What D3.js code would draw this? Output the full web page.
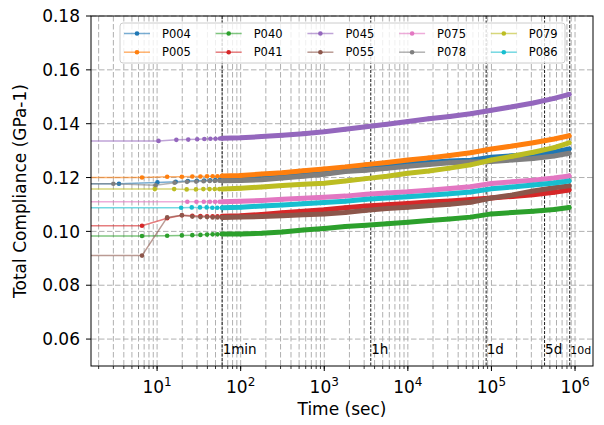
<!DOCTYPE html>
<html><head><meta charset="utf-8">
<script src="https://cdn.jsdelivr.net/npm/d3@7"></script>
<style>body{margin:0;background:#fff} svg{display:block} text{font-family:"DejaVu Sans",sans-serif}</style>
</head><body><svg id="c" width="604" height="425"></svg>
<script>
const names = ["P004","P005","P040","P041","P045","P055","P075","P078","P079","P086"];
const colors = ["#1f77b4","#ff7f0e","#2ca02c","#d62728","#9467bd","#8c564b","#e377c2","#7f7f7f","#bcbd22","#17becf"];
const earlyTimes = [
  [1, 3.5, 10.1, 16.7, 23.3, 29.9, 36.5, 43.1, 49.7, 56.3],
  [1, 6.6, 13.2, 19.8, 26.4, 33, 39.6, 46.2, 52.8],
  [1, 6.6, 13.2, 19.8, 26.4, 33, 39.6, 46.2, 52.8],
  [1, 6.6, 13.2, 19.8, 26.4, 33, 39.6, 46.2, 52.8],
  [1, 10.4, 17, 23.6, 30.2, 36.8, 43.4, 50, 56.6],
  [1, 6.6, 13.2, 19.8, 26.4, 33, 39.6, 46.2, 52.8],
  [1, 23, 29.6, 36.2, 42.8, 49.4, 56],
  [1, 3.0, 9.6, 16.2, 22.8, 29.4, 36, 42.6, 49.2, 55.8],
  [1, 9.4, 16, 22.6, 29.2, 35.8, 42.4, 49, 55.6],
  [1, 19.4, 26, 32.6, 39.2, 45.8, 52.4]
];
const earlyValues = [
  [0.1177,0.1177,0.1182,0.1184,0.1187,0.1188,0.1189,0.1190,0.1191,0.1192],
  [0.1200,0.1200,0.1203,0.1203,0.1204,0.1204,0.1205,0.1205,0.1205],
  [0.0983,0.0983,0.0984,0.0985,0.0986,0.0987,0.0988,0.0989,0.0989],
  [0.1021,0.1021,0.1049,0.1060,0.1058,0.1057,0.1056,0.1056,0.1056],
  [0.1336,0.1336,0.1340,0.1341,0.1342,0.1343,0.1344,0.1344,0.1345],
  [0.0910,0.0910,0.1052,0.1060,0.1055,0.1053,0.1053,0.1052,0.1052],
  [0.1110,0.1110,0.1110,0.1110,0.1110,0.1110,0.1110],
  [0.1177,0.1177,0.1171,0.1181,0.1184,0.1185,0.1186,0.1187,0.1187,0.1188],
  [0.1157,0.1157,0.1157,0.1156,0.1156,0.1157,0.1157,0.1157,0.1157],
  [0.1088,0.1088,0.1089,0.1089,0.1089,0.1088,0.1088]
];
const denseTimes = [60,100,178,316,562,1000,1780,3160,5620,10000,17800,31600,56200,100000,178000,316000,562000,850000];
const denseValues = [
  [0.1192,0.1195,0.1200,0.1206,0.1213,0.1220,0.1228,0.1236,0.1243,0.1250,0.1256,0.1261,0.1264,0.1275,0.1281,0.1286,0.1295,0.1306],
  [0.1206,0.1208,0.1213,0.1218,0.1225,0.1232,0.1239,0.1248,0.1256,0.1265,0.1273,0.1282,0.1292,0.1306,0.1317,0.1329,0.1343,0.1355],
  [0.0990,0.0990,0.0993,0.0998,0.1005,0.1011,0.1018,0.1023,0.1028,0.1034,0.1040,0.1046,0.1053,0.1065,0.1070,0.1075,0.1081,0.1089],
  [0.1056,0.1058,0.1063,0.1069,0.1075,0.1080,0.1088,0.1094,0.1099,0.1104,0.1109,0.1113,0.1118,0.1124,0.1130,0.1136,0.1145,0.1154],
  [0.1346,0.1348,0.1352,0.1357,0.1363,0.1370,0.1379,0.1389,0.1398,0.1408,0.1418,0.1427,0.1437,0.1450,0.1463,0.1477,0.1494,0.1509],
  [0.1052,0.1053,0.1055,0.1058,0.1062,0.1065,0.1070,0.1078,0.1085,0.1090,0.1095,0.1101,0.1108,0.1124,0.1135,0.1150,0.1162,0.1169],
  [0.1110,0.1112,0.1115,0.1119,0.1123,0.1127,0.1131,0.1138,0.1143,0.1147,0.1153,0.1159,0.1166,0.1178,0.1184,0.1190,0.1198,0.1206],
  [0.1188,0.1189,0.1192,0.1198,0.1205,0.1212,0.1222,0.1227,0.1234,0.1242,0.1248,0.1255,0.1258,0.1260,0.1265,0.1271,0.1280,0.1290],
  [0.1157,0.1160,0.1165,0.1170,0.1175,0.1179,0.1187,0.1196,0.1205,0.1216,0.1224,0.1235,0.1247,0.1265,0.1279,0.1294,0.1311,0.1329],
  [0.1088,0.1090,0.1094,0.1098,0.1103,0.1107,0.1112,0.1119,0.1124,0.1129,0.1134,0.1140,0.1146,0.1158,0.1165,0.1172,0.1180,0.1187]
];
const yTicks = [0.06,0.08,0.10,0.12,0.14,0.16,0.18];
const xTickExps = [1,2,3,4,5,6];
const markTimes = [60,3600,86400,432000,864000];
const markLabels = ["1min","1h","1d","5d","10d"];

const L=91,R=593,T=16,B=366;
const svg = d3.select("#c");
const x = d3.scaleLog().domain([1.62,1.64e6]).range([L,R]);
const y = d3.scaleLinear().domain([0.05,0.18]).range([B,T]);

svg.append("defs").append("clipPath").attr("id","clip").append("rect")
  .attr("x",L).attr("y",T).attr("width",R-L).attr("height",B-T);

// minor tick values
const minor=[];
for(let k=0;k<=6;k++) for(let m=1;m<=9;m++){const t=m*Math.pow(10,k); if(t>=x.domain()[0]&&t<=x.domain()[1]) minor.push(t);}

const grid = svg.append("g").attr("stroke","#b0b0b0").attr("stroke-width",1).attr("stroke-dasharray","5.5,2.5");
minor.forEach(t=>grid.append("line").attr("x1",x(t)).attr("x2",x(t)).attr("y1",T).attr("y2",B));
yTicks.forEach(v=>grid.append("line").attr("x1",L).attr("x2",R).attr("y1",y(v)).attr("y2",y(v)));

// vertical marker lines
const mk = svg.append("g");
markTimes.forEach((t,i)=>{
  mk.append("line").attr("x1",x(t)).attr("x2",x(t)).attr("y1",T).attr("y2",B)
    .attr("stroke","#000").attr("stroke-width",0.9).attr("stroke-dasharray","3,1.5");
  mk.append("text").attr("x",x(t)+0.5).attr("y",354).attr("font-size", i===4?11:13.5).attr("fill","#000").text(markLabels[i]);
});

const plot = svg.append("g").attr("clip-path","url(#clip)");
const line = d3.line().x(d=>x(d[0])).y(d=>y(d[1]));
names.forEach((n,i)=>{
  const early = earlyTimes[i].map((t,j)=>[t,earlyValues[i][j]]);
  const dense = denseTimes.map((t,j)=>[t,denseValues[i][j]]);
  const all = early.concat(dense);
  const g = plot.append("g");
  g.append("path").datum(all).attr("d",line).attr("fill","none").attr("stroke",colors[i]).attr("stroke-width",1.5).attr("stroke-opacity",0.6);
  g.append("path").datum(dense).attr("d",line).attr("fill","none").attr("stroke",colors[i]).attr("stroke-width",5).attr("stroke-linecap","round").attr("stroke-linejoin","round");
  g.selectAll("circle").data(all).enter().append("circle").attr("cx",d=>x(d[0])).attr("cy",d=>y(d[1])).attr("r",2.3).attr("fill",colors[i]);
});

// axes spines
svg.append("rect").attr("x",L).attr("y",T).attr("width",R-L).attr("height",B-T).attr("fill","none").attr("stroke","#000").attr("stroke-width",1);

// y ticks
yTicks.forEach(v=>{
  svg.append("line").attr("x1",L-5).attr("x2",L).attr("y1",y(v)).attr("y2",y(v)).attr("stroke","#000");
  svg.append("text").attr("x",L-11).attr("y",y(v)).attr("dy","0.36em").attr("text-anchor","end").attr("font-size",17).text(d3.format(".2f")(v));
});
// x minor ticks
minor.forEach(t=>svg.append("line").attr("x1",x(t)).attr("x2",x(t)).attr("y1",B).attr("y2",B+3).attr("stroke","#000").attr("stroke-width",0.8));
xTickExps.forEach(e=>{
  const t=Math.pow(10,e);
  svg.append("line").attr("x1",x(t)).attr("x2",x(t)).attr("y1",B).attr("y2",B+5).attr("stroke","#000");
  const tx = svg.append("text").attr("x",x(t)).attr("y",393).attr("text-anchor","middle").attr("font-size",17);
  tx.append("tspan").text("10");
  tx.append("tspan").attr("dy",-7).attr("font-size",12).text(String(e));
});

svg.append("text").attr("x",(L+R)/2).attr("y",415).attr("text-anchor","middle").attr("font-size",17).text("Time (sec)");
svg.append("text").attr("transform",`translate(26,${(T+B)/2}) rotate(-90)`).attr("text-anchor","middle").attr("font-size",17).text("Total Compliance (GPa-1)");

// legend
const lg = svg.append("g");
lg.append("rect").attr("x",120).attr("y",23).attr("width",445).attr("height",40).attr("rx",3)
  .attr("fill","#fff").attr("fill-opacity",0.8).attr("stroke","#cccccc").attr("stroke-width",1);
names.forEach((n,i)=>{
  const col=Math.floor(i/2), row=i%2;
  const tx=162+col*91.7, ty=33.5+row*18.7;
  lg.append("line").attr("x1",tx-38).attr("x2",tx-12).attr("y1",ty).attr("y2",ty).attr("stroke",colors[i]).attr("stroke-width",1.5).attr("stroke-opacity",0.6);
  lg.append("circle").attr("cx",tx-25).attr("cy",ty).attr("r",2.3).attr("fill",colors[i]);
  lg.append("text").attr("x",tx).attr("y",ty).attr("dy","0.36em").attr("font-size",11.5).text(n);
});
</script></body></html>
